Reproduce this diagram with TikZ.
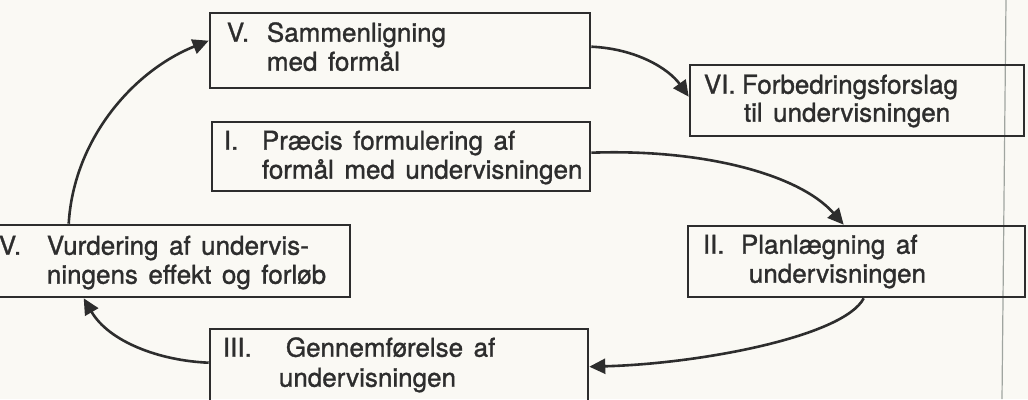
\documentclass[tikz,border=0pt]{standalone}
\usepackage{fontspec}
\setmainfont{TeX Gyre Heros}[FakeBold=1.2,WordSpace=1.45]
\usetikzlibrary{arrows.meta}
\definecolor{ink}{RGB}{45,45,45}
\definecolor{paper}{RGB}{250,249,244}
\definecolor{fold}{RGB}{160,165,160}
\begin{document}
\begin{tikzpicture}[x=1pt,y=-1pt,
  box/.style={draw=ink,line width=2.6pt,inner sep=0pt},
  lbl/.style={anchor=base west,inner sep=0pt,text=ink,font=\fontsize{26}{28}\selectfont},
  conn/.style={draw=ink,line width=2.6pt,-{Triangle[length=16pt,width=15pt]}}]
\fill[paper] (0,0) rectangle (1028,399);
\useasboundingbox (0,0) rectangle (1028,399);
\draw[fold,line width=1.2pt] (1006,0) -- (1002,399);
% boxes
\node[box,minimum width=380pt,minimum height=75pt] (V) at (400,50.5) {};
\node[box,minimum width=334pt,minimum height=71pt] (VI) at (857,100.5) {};
\node[box,minimum width=378pt,minimum height=69pt] (I) at (401,156.5) {};
\node[box,minimum width=370pt,minimum height=72pt] (IV) at (165,261) {};
\node[box,minimum width=337pt,minimum height=71pt] (II) at (856.5,261.5) {};
\node[box,minimum width=378pt,minimum height=73pt] (III) at (399,365.5) {};
% texts
\node[lbl] (Vn) at ([shift={(18,30)}]V.north west) {V.};
\node[lbl] (Va) at ([shift={(58,30)}]V.north west) {Sammenligning};
\node[lbl] (Vb) at ([shift={(58,59)}]V.north west) {med formål};
\node[lbl] (VIn) at ([shift={(15,30)}]VI.north west) {VI.};
\node[lbl] (VIa) at ([shift={(53,30)}]VI.north west) {Forbedringsforslag};
\node[lbl] (VIb) at ([shift={(55,58)}]VI.north west) {til undervisningen};
\node[lbl] (In) at ([shift={(13,29)}]I.north west) {I.};
\node[lbl] (Ia) at ([shift={(51,29)}]I.north west) {Præcis formulering af};
\node[lbl] (Ib) at ([shift={(51,58)}]I.north west) {formål med undervisningen};
\node[lbl] (IVn) at ([shift={(20,31)}]IV.north west) {V.};
\node[lbl] (IVa) at ([shift={(68,31)}]IV.north west) {Vurdering af undervis-};
\node[lbl] (IVb) at ([shift={(68,60)}]IV.north west) {ningens effekt og forløb};
\node[lbl] (IIn) at ([shift={(16,29)}]II.north west) {II.};
\node[lbl] (IIa) at ([shift={(54,29)}]II.north west) {Planlægning af};
\node[lbl] (IIb) at ([shift={(62,58)}]II.north west) {undervisningen};
\node[lbl] (IIIn) at ([shift={(14,29)}]III.north west) {III.};
\node[lbl] (IIIa) at ([shift={(77,29)}]III.north west) {Gennemførelse af};
\node[lbl] (IIIb) at ([shift={(70,59)}]III.north west) {undervisningen};
% connectors
\draw[conn] ([shift={(90,0)}]IV.north west) .. controls +(5,-85) and +(-75,30) .. ([shift={(0,29)}]V.north west);
\draw[conn] ([shift={(0,35)}]V.north east) .. controls +(45,2) and +(-20,-28) .. ([shift={(0,33)}]VI.north west);
\draw[conn] ([shift={(0,32)}]I.north east) .. controls +(110,-4) and +(-45,-51) .. ([shift={(157,0)}]II.north west);
\draw[conn] ([shift={(177,0)}]II.south west) .. controls +(-20,38) and +(112,-3) .. ([shift={(0,39)}]III.north east);
\draw[conn] ([shift={(0,35)}]III.north west) .. controls +(-50,-2) and +(25,43) .. ([shift={(105,0)}]IV.south west);
\end{tikzpicture}
\end{document}
